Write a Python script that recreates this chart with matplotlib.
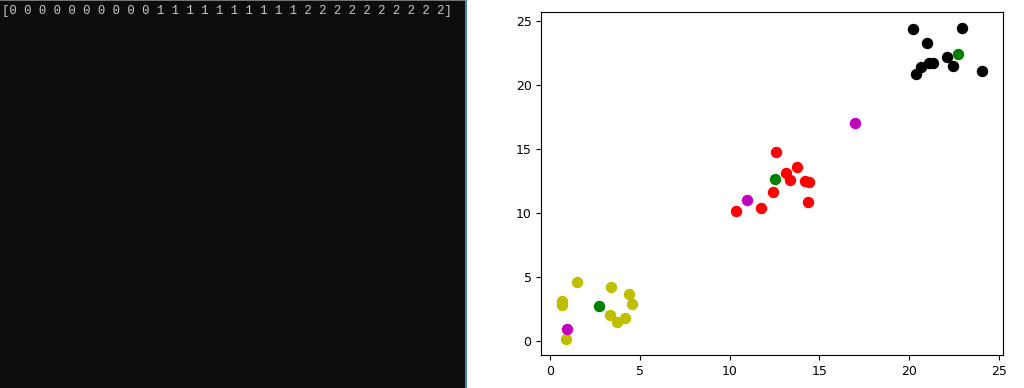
import numpy as np
import matplotlib
matplotlib.use("Agg")
import matplotlib.pyplot as plt

# cluster members
x0 = [1.53, 0.69, 0.69, 3.38, 4.42, 4.59, 3.33, 3.75, 4.18, 0.91]
y0 = [4.64, 3.16, 2.83, 4.27, 3.71, 2.91, 2.05, 1.53, 1.82, 0.16]
x1 = [12.57, 10.35, 11.74, 12.42, 13.13, 13.37, 13.73, 14.17, 14.43, 14.36]
y1 = [14.76, 10.21, 10.44, 11.66, 13.13, 12.62, 13.63, 12.51, 12.43, 10.85]
x2 = [20.21, 22.95, 20.99, 22.12, 21.10, 21.30, 20.64, 22.43, 20.36, 24.03]
y2 = [24.40, 24.48, 23.31, 22.18, 21.71, 21.71, 21.45, 21.50, 20.85, 21.13]
# centres and test points
cx = [2.71, 12.53, 22.70]
cy = [2.77, 12.67, 22.46]
tx = [0.95, 10.96, 16.99]
ty = [0.96, 11.01, 17.02]
labels = [0] * 10 + [1] * 10 + [2] * 10

fig = plt.figure(figsize=(10.24, 3.88), dpi=100)

# console panel on the left
con = fig.add_axes([0, 0, 465 / 1024, 1])
con.set_facecolor("#0c0c0c")
con.set_xlim(0, 1)
con.set_ylim(0, 1)
con.set_xticks([])
con.set_yticks([])
for s in con.spines.values():
    s.set_visible(False)
con.axhline(0.999, color="#8a8a8a", lw=1.2)
con.text(0.004, 0.972, "[" + " ".join(str(v) for v in labels) + "]",
         color="#c8c8c8", fontsize=8.85, family="Liberation Mono",
         va="center", ha="left")
fig.add_artist(plt.Line2D([466 / 1024, 466 / 1024], [0, 1], color="#4a7fc0", lw=1.5))

ax = fig.add_axes([541.3 / 1024, 33 / 388, 461.4 / 1024, 342.7 / 388])
ax.scatter(x0, y0, c="y", s=52)
ax.scatter(x1, y1, c="r", s=52)
ax.scatter(x2, y2, c="k", s=52)
ax.scatter(cx, cy, c="g", s=52)
ax.scatter(tx, ty, c="m", s=52)
ax.tick_params(labelsize=9)

fig.savefig("out.png", dpi=100)
